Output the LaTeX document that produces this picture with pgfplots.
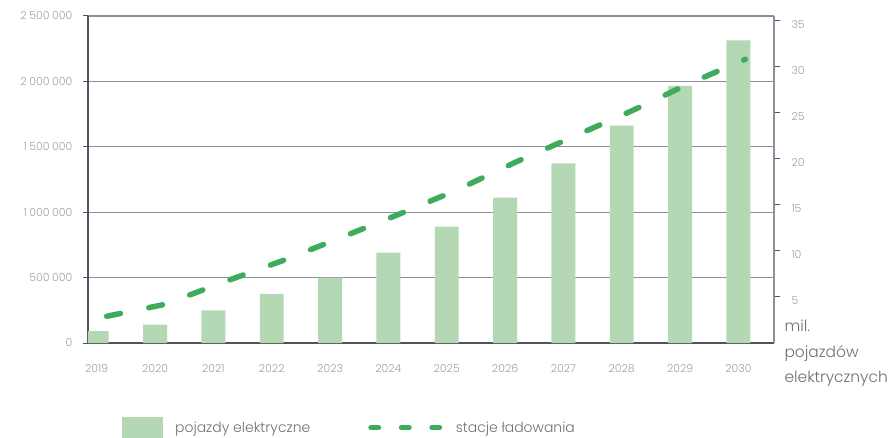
\documentclass[border=0pt]{standalone}
\usepackage{fontspec}
\setmainfont{Poppins}
\newfontfamily\lightfont{Poppins Light}
\usepackage{pgfplots}
\pgfplotsset{compat=1.18}
\definecolor{barg}{RGB}{179,216,179}
\definecolor{lineg}{RGB}{62,172,92}
\definecolor{gridc}{RGB}{140,143,156}
\definecolor{axisc}{RGB}{80,82,95}
\definecolor{tickc}{RGB}{160,160,165}
\definecolor{textc}{RGB}{110,110,120}
\pgfplotstableread{
x v
0 90000
1 140000
2 250000
3 375000
4 500000
5 690000
6 890000
7 1111000
8 1374000
9 1662000
10 1965000
11 2314000
}\evdata
\pgfplotstableread{
x s
0.17 2.9
1.17 4.2
2.17 6.6
3.17 8.9
4.17 11.4
5.17 13.95
6.17 16.6
7.17 19.6
8.17 22.4
9.17 25.2
10.17 28.2
11.12 30.8
}\stdata
\begin{document}
\begin{tikzpicture}
\useasboundingbox (-88bp,-95bp) rectangle (807bp,343bp);
\begin{axis}[
  at={(0,0)}, anchor=south west,
  scale only axis, width=686bp, height=327bp,
  xmin=-0.15, xmax=11.61, ymin=0, ymax=2500000,
  axis x line*=bottom, axis y line*=left,
  axis line style={draw=axisc, line width=1.2bp},
  ymajorgrids, grid style={draw=gridc, line width=1.1bp},
  ytick={0,500000,1000000,1500000,2000000,2500000},
  scaled y ticks=false,
  xtick={0,...,11},
  xticklabels={2019,2020,2021,2022,2023,2024,2025,2026,2027,2028,2029,2030},
  x tick style={draw=none},
  y tick style={draw=axisc, line width=1bp},
  tick align=outside, major tick length=5bp,
  /pgf/number format/assume math mode=true,
  /pgf/number format/.cd, fixed, 1000 sep={\hspace{0.24em}},
  /pgfplots/.cd,
  yticklabel style={font=\lightfont\fontsize{11}{13}\selectfont, text=tickc, xshift=-7bp},
  xticklabel style={font=\lightfont\fontsize{11}{13}\selectfont, text=tickc, yshift=-13bp},
  legend columns=2,
  legend style={draw=none, fill=none, at={(0.0452,-0.22)}, anchor=north west,
    font=\lightfont\fontsize{14}{16}\selectfont, text=textc,
    /tikz/every even column/.append style={column sep=56bp},
    /tikz/every odd column/.append style={column sep=10bp},
    cells={anchor=west}},
]
\addplot[ybar, bar width=0.41, bar shift=0pt, fill=barg, draw=none,
  legend image code/.code={\fill[barg] (0bp,-10.5bp) rectangle (41bp,10.5bp);}]
  table[x=x, y=v] {\evdata};
\addlegendentry{pojazdy elektryczne}
\addlegendimage{legend image code/.code={\draw[lineg, line width=5.5bp, line cap=round, dash pattern=on 7.5bp off 23bp] (3bp,0) -- (73bp,0);}}
\addlegendentry{stacje ładowania}
\end{axis}
\begin{axis}[
  at={(0,0)}, anchor=south west,
  scale only axis, width=686bp, height=327bp,
  xmin=-0.15, xmax=11.61, ymin=0, ymax=35.5,
  axis x line=none, axis y line*=right,
  axis line style={draw=gridc, line width=1.2bp},
  ytick={5,10,15,20,25,30,35},
  y tick style={draw=axisc, line width=1bp},
  tick align=outside, major tick length=6bp,
  /pgf/number format/assume math mode=true,
  yticklabel style={font=\lightfont\fontsize{11}{13}\selectfont, text=tickc, anchor=west, xshift=8bp, yshift=-3.5bp},
  ylabel={mil.\\pojazdów\\elektrycznych},
  every axis y label/.style={at={(rel axis cs:1,0.08)}, anchor=north west, align=left, xshift=7bp,
    font=\lightfont\fontsize{15.5}{25.5}\selectfont, text=textc},
]
\addplot[lineg, line width=5.5bp, line cap=round, dash pattern=on 14bp off 29bp, dash phase=0bp]
  table[x=x, y=s] {\stdata};
\end{axis}
\end{tikzpicture}
\end{document}
